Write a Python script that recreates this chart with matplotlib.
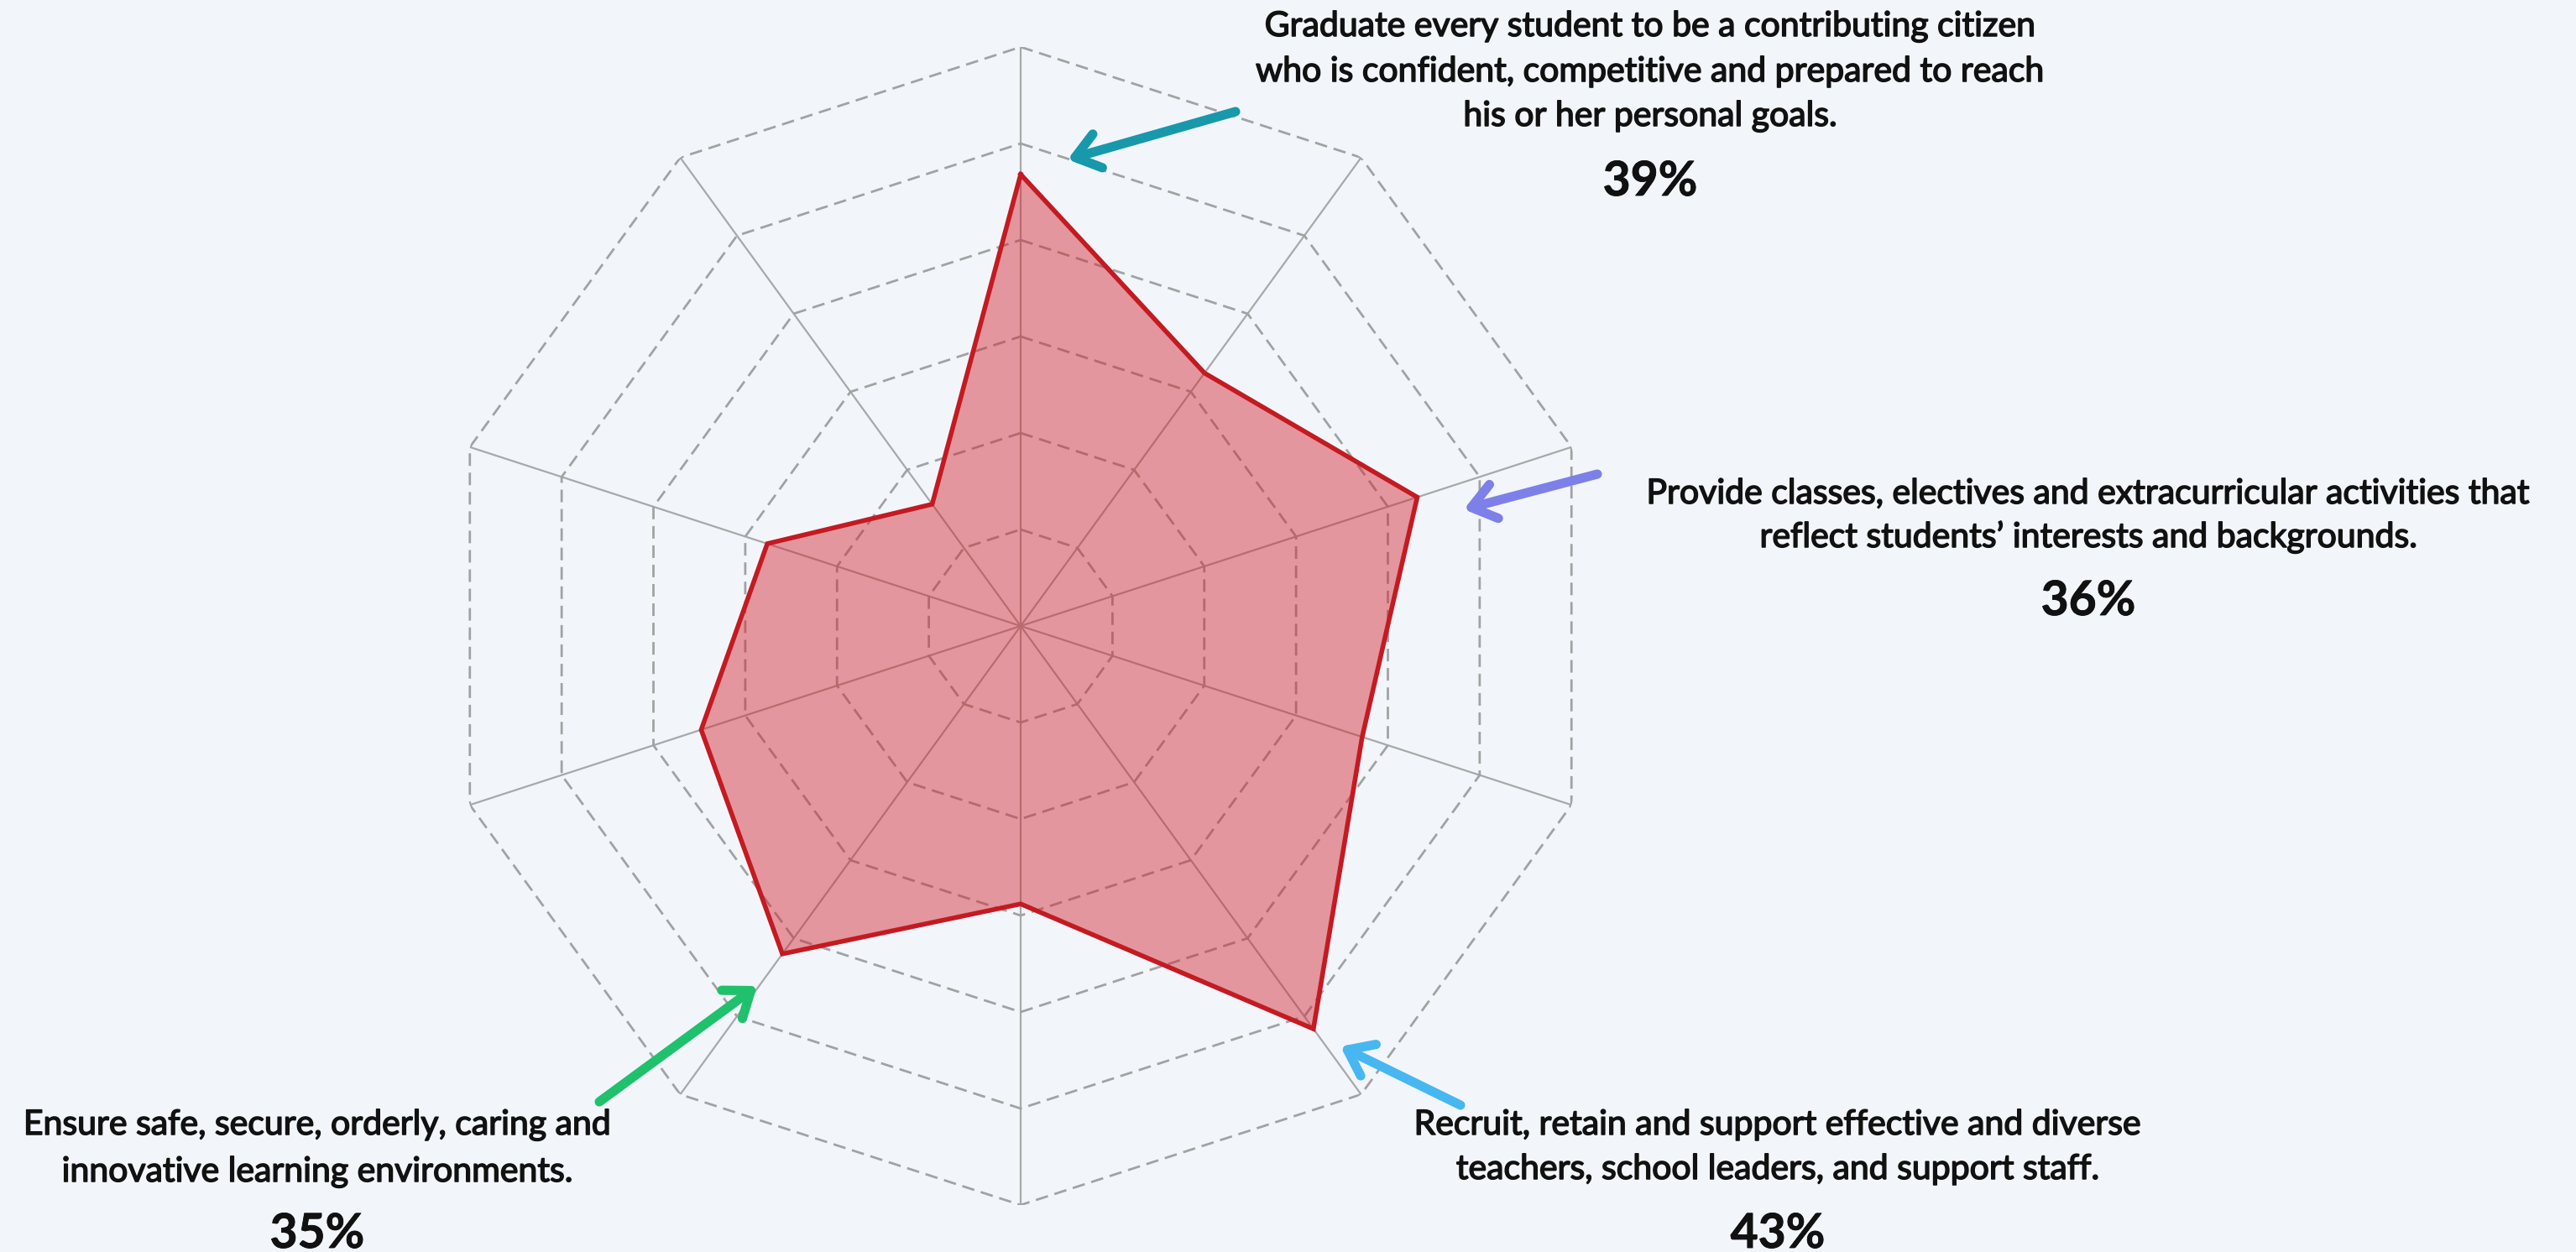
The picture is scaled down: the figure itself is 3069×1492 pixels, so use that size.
import numpy as np
import matplotlib
matplotlib.use('Agg')
import matplotlib.pyplot as plt
import matplotlib.patheffects as pe

# ---------------- data ----------------
values = [39, 27, 36, 31, 43, 24, 35, 29, 23, 13]   # one value per spoke, clockwise from top
r_max = 50
n_rings = 6

callout_index = [0, 2, 4, 6]
callout_text = [
    ["Graduate every student to be a contributing citizen",
     "who is confident, competitive and prepared to reach",
     "his or her personal goals."],
    ["Provide classes, electives and extracurricular activities that",
     "reflect students\u2019 interests and backgrounds."],
    ["Recruit, retain and support effective and diverse",
     "teachers, school leaders, and support staff."],
    ["Ensure safe, secure, orderly, caring and",
     "innovative learning environments."],
]

# ---------------- layout / style ----------------
W, H, DPI = 3069, 1492, 100
BG = '#f2f6fb'
TXT = '#111111'

fig = plt.figure(figsize=(W / DPI, H / DPI), dpi=DPI, facecolor=BG)
cx, cy, R = 1216, 746, 690
ax = fig.add_axes([(cx - R) / W, (H - cy - R) / H, 2 * R / W, 2 * R / H], projection='polar')
ax.set_facecolor('none')
ax.set_theta_offset(np.pi / 2)
ax.set_theta_direction(-1)
ax.set_ylim(0, r_max)
ax.grid(False)
ax.spines['polar'].set_visible(False)
ax.set_xticks([])
ax.set_yticks([])

n = len(values)
theta = np.arange(n) * 2 * np.pi / n
closed_theta = np.append(theta, theta[0])

for t in theta:
    ax.plot([t, t], [0, r_max], color='#a8a8a8', lw=1.6, zorder=1, solid_capstyle='butt')
for k in range(1, n_rings + 1):
    ax.plot(closed_theta, [r_max * k / n_rings] * (n + 1), color='#a2a2a2', lw=2.0,
            ls=(0, (5.4, 2.9)), zorder=1)

vals = np.append(values, values[0])
ax.fill(closed_theta, vals, color='#d2222b', alpha=0.45, lw=0, zorder=2)
ax.plot(closed_theta, vals, color='#c41a21', lw=4.0, zorder=3, solid_joinstyle='miter')

# ---------------- arrows ----------------
arrow_colors = ['#1798ab', '#7d80e8', '#47b7f1', '#1fc16c']
arrow_tail = [(1472, 133), (1903, 565), (1740, 1317), (714, 1313)]
arrow_tip = [(1272, 190), (1744, 607), (1597, 1247), (902, 1175)]
for col, (tx, ty), (hx, hy) in zip(arrow_colors, arrow_tail, arrow_tip):
    fig.add_artist(matplotlib.patches.FancyArrowPatch(
        (tx, H - ty), (hx, H - hy), transform=None,
        arrowstyle='->,head_length=1.0,head_width=0.75', mutation_scale=20,
        color=col, lw=8, capstyle='round', joinstyle='round',
        shrinkA=0, shrinkB=0, zorder=5))

# ---------------- callout text ----------------
text_x = [1966, 2488, 2118, 378]
text_baselines = [[43, 97, 150], [600, 652], [1352, 1405], [1352, 1408]]
pct_baseline = [233, 733, 1487, 1487]
body_fx = [pe.withStroke(linewidth=1.1, foreground=TXT)]
pct_fx = [pe.withStroke(linewidth=0.6, foreground=TXT)]
for i, idx in enumerate(callout_index):
    for line, yb in zip(callout_text[i], text_baselines[i]):
        fig.text(text_x[i] / W, 1 - yb / H, line, ha='center', va='baseline',
                 fontsize=29.5, family='Lato', color=TXT, path_effects=body_fx)
    fig.text(text_x[i] / W, 1 - pct_baseline[i] / H, f"{values[idx]}%", ha='center',
             va='baseline', fontsize=41, family='Lato', fontweight=700, color=TXT,
             path_effects=pct_fx)

fig.savefig('out.png', dpi=DPI, facecolor=BG)
